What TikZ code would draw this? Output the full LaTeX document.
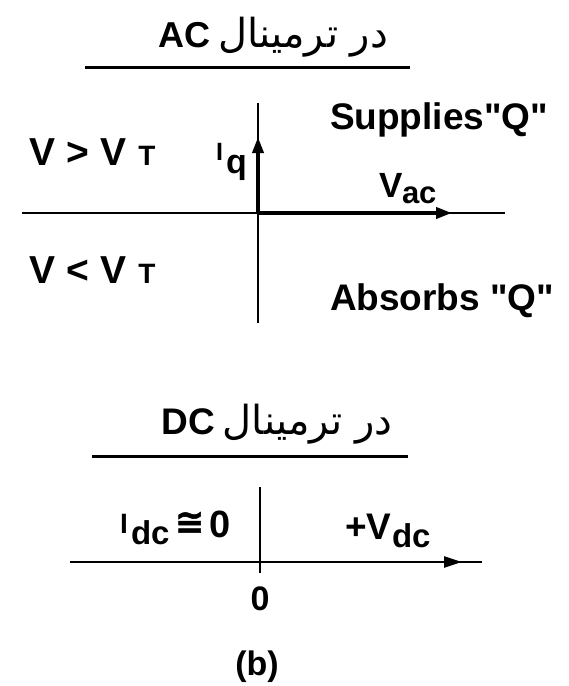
\documentclass[tikz,border=0pt]{standalone}
\usepackage{fontspec}
\setmainfont{Liberation Sans}[Ligatures=TeXOff]
\newfontfamily\farsi[Script=Arabic]{DejaVu Sans}
\newfontfamily\dejavu{DejaVu Sans}[FakeBold=1.5]
\TeXXeTstate=1
\usetikzlibrary{arrows.meta}
\newcommand\fsz[1]{\fontsize{#1}{#1}\selectfont}
\begin{document}
\begin{tikzpicture}[x=1pt,y=-1pt,
  txt/.style={inner sep=0pt,outer sep=0pt,font=\bfseries},
  ttl/.style={inner sep=0pt,outer sep=0pt,font=\mdseries},
  axis/.style={line width=2.6pt},
  rule/.style={line width=3pt},
  thickax/.style={line width=3.6pt,-{Triangle[length=16pt,width=11pt]}},
  dcax/.style={line width=2.6pt,-{Triangle[length=18pt,width=11pt]}}]
\useasboundingbox (0,0) rectangle (569,686);
% ---------- AC ----------
\node[ttl,anchor=base] (tac) at (273,47) {\fsz{40}\farsi\beginR در ترمینال\hspace{8pt}\beginL{\rmfamily\bfseries\fsz{36}AC}\endL\endR};
\coordinate (ra) at (85,67); \coordinate (rb) at (410,67);
\draw[rule] (ra) -- (rb);
\coordinate (acW) at (22,213); \coordinate (acE) at (505,213);
\coordinate (acO) at (258,213); \coordinate (acN) at (258,103);
\coordinate (acS) at (258,323); \coordinate (acHT) at (452,213);
\coordinate (acVT) at (258,137);
\draw[axis] (acW) -- (acE);
\draw[axis] (acN) -- (acS);
\draw[thickax] (acO) -- (acHT);
\draw[thickax] (acO) -- (acVT);
\node[txt,anchor=base west] (sup) at (330,129) {\fsz{37}Supplies"Q"};
\node[txt,anchor=base west] (abs) at (330,310) {\fsz{37}Absorbs "Q"};
\node[txt,anchor=base west] (vgt) at (30,165) {\fsz{39}V > V\hspace{12pt}{\fsz{28}T}};
\node[txt,anchor=base west] (vlt) at (30,283) {\fsz{39}V < V\hspace{12pt}{\fsz{28}T}};
\node[txt,anchor=base west] (iqI) at (216,160) {\fsz{25}I};
\node[txt,anchor=base west] (iqq) at (226,173) {\fsz{34}q};
\node[txt,anchor=base west] (vaV) at (379,197) {\fsz{35}V};
\node[txt,anchor=base west] (vaac) at (402,203) {\fsz{31}ac};
% ---------- DC ----------
\node[ttl,anchor=base] (tdc) at (277,434) {\fsz{40}\farsi\beginR در ترمینال\hspace{8pt}\beginL{\rmfamily\bfseries\fsz{37}DC}\endL\endR};
\coordinate (rc) at (92,456); \coordinate (rd) at (408,456);
\draw[rule] (rc) -- (rd);
\coordinate (dcW) at (70,562); \coordinate (dcE) at (482,562);
\coordinate (dcO) at (260,562); \coordinate (dcN) at (260,487);
\coordinate (dcS) at (260,573); \coordinate (dcT) at (462,562);
\draw[axis] (dcW) -- (dcE);
\draw[axis] (dcN) -- (dcS);
\draw[dcax] (dcO) -- (dcT);
\node[txt,anchor=base west] (idI) at (120,533) {\fsz{28}I};
\node[txt,anchor=base west] (iddc) at (131,544) {\fsz{33}dc};
\node[txt,anchor=base west] (idap) at (175,534) {\fsz{35}\dejavu ≅};
\node[txt,anchor=base west] (id0) at (209,537) {\fsz{38}0};
\node[txt,anchor=base west] (vdp) at (345,539) {\fsz{37}+V};
\node[txt,anchor=base west] (vddc) at (392,547) {\fsz{33}dc};
\node[txt,anchor=base] (zero) at (260,610) {\fsz{34}0};
\node[txt,anchor=base] (lb) at (257,675) {\fsz{34}(b)};
\end{tikzpicture}
\end{document}
